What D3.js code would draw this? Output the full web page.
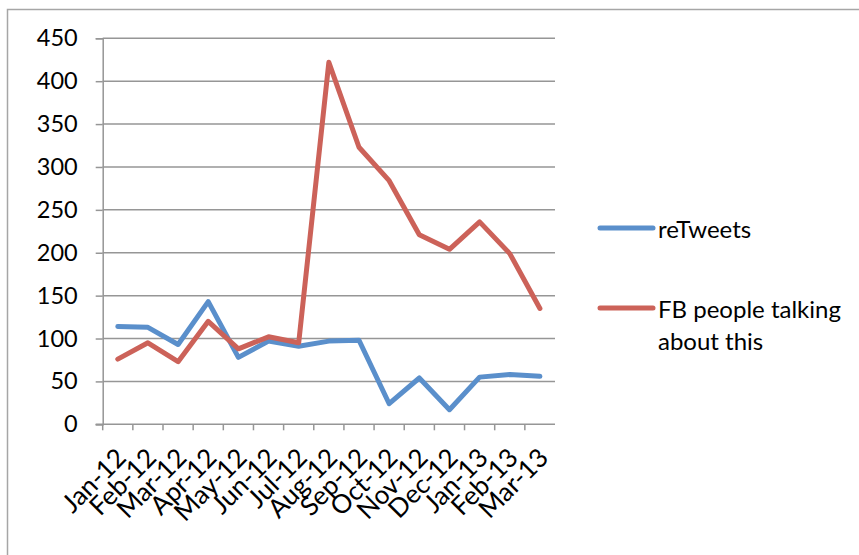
<!DOCTYPE html>
<html>
<head>
<meta charset="utf-8">
<script src="https://cdn.jsdelivr.net/npm/d3@7"></script>
<style>
  html, body { margin: 0; padding: 0; background: #fff; }
  svg { display: block; font-family: Lato, "Open Sans", sans-serif; }
</style>
</head>
<body>
<svg id="chart" width="859" height="555"></svg>
<script>
// data
var months = ["Jan-12", "Feb-12", "Mar-12", "Apr-12", "May-12", "Jun-12", "Jul-12", "Aug-12",
              "Sep-12", "Oct-12", "Nov-12", "Dec-12", "Jan-13", "Feb-13", "Mar-13"];
var reTweets = [114, 113, 93, 143, 78, 97, 91, 97, 98, 24, 54, 17, 55, 58, 56];
var fbTalking = [76, 95, 73, 120, 88, 102, 95, 422, 323, 284, 221, 204, 236, 199, 135];
var yTicks = [0, 50, 100, 150, 200, 250, 300, 350, 400, 450];
var seriesNames = ["reTweets", "FB people talking about this"];
var colors = ["#5A8FCB", "#CC6259"];

// plot area
var plotLeft = 102.7, plotRight = 555, plotTop = 38.3, plotBottom = 424.3;

var svg = d3.select("#chart");

// outer chart border (only top and left visible)
svg.append("path")
    .attr("d", "M7.5,555 V9.5 H859")
    .attr("fill", "none")
    .attr("stroke", "#a6a6a6")
    .attr("stroke-width", 1.5);

var x = d3.scaleBand().domain(months).range([plotLeft, plotRight]);
var y = d3.scaleLinear().domain([0, 450]).range([plotBottom, plotTop]);

var g = svg.append("g");

// gridlines
g.selectAll(".grid")
    .data(yTicks.filter(function(d) { return d > 0; }))
    .enter().append("line")
    .attr("class", "grid")
    .attr("x1", plotLeft).attr("x2", plotRight)
    .attr("y1", function(d) { return y(d); })
    .attr("y2", function(d) { return y(d); })
    .attr("stroke", "#969696")
    .attr("stroke-width", 1.5);

// y axis
var yAxis = d3.axisLeft(y).tickValues(yTicks).tickSize(7).tickPadding(18);
var yg = g.append("g").attr("transform", "translate(" + plotLeft + ",0)").call(yAxis);
yg.select(".domain").attr("stroke", "#969696").attr("stroke-width", 1.5);
yg.selectAll(".tick line").attr("stroke", "#969696").attr("stroke-width", 1.5);
yg.selectAll(".tick text")
    .attr("font-size", 23.5)
    .attr("font-family", "Lato, 'Open Sans', sans-serif")
    .attr("fill", "#000");

// x axis line + ticks at category boundaries
g.append("line")
    .attr("x1", plotLeft - 7).attr("x2", plotRight)
    .attr("y1", plotBottom).attr("y2", plotBottom)
    .attr("stroke", "#969696").attr("stroke-width", 1.5);
g.selectAll(".xtick")
    .data(months)
    .enter().append("line")
    .attr("class", "xtick")
    .attr("x1", function(d) { return x(d); })
    .attr("x2", function(d) { return x(d); })
    .attr("y1", plotBottom).attr("y2", plotBottom + 6)
    .attr("stroke", "#969696").attr("stroke-width", 1.5);

g.selectAll(".xlab")
    .data(months)
    .enter().append("text")
    .attr("class", "xlab")
    .attr("text-anchor", "end")
    .attr("font-size", 26)
    .attr("fill", "#000")
    .attr("transform", function(d) {
        var cx = x(d) + x.bandwidth() / 2 + 10;
        return "translate(" + cx + "," + (plotBottom + 35) + ") rotate(-45)";
    })
    .text(function(d) { return d; });

// lines
var line = d3.line()
    .x(function(d, i) { return x(months[i]) + x.bandwidth() / 2; })
    .y(function(d) { return y(d); });

[reTweets, fbTalking].forEach(function(s, i) {
    g.append("path")
        .datum(s)
        .attr("fill", "none")
        .attr("stroke", colors[i])
        .attr("stroke-width", 5)
        .attr("stroke-linejoin", "round")
        .attr("stroke-linecap", "round")
        .attr("d", line);
});

// legend
var legend = svg.append("g");
var legY = [228, 308];
seriesNames.forEach(function(name, i) {
    legend.append("line")
        .attr("x1", 600).attr("x2", 653)
        .attr("y1", legY[i]).attr("y2", legY[i])
        .attr("stroke", colors[i])
        .attr("stroke-width", 5)
        .attr("stroke-linecap", "round");
});
legend.append("text")
    .attr("x", 658).attr("y", 238)
    .attr("font-size", 24).attr("fill", "#000")
    .text(seriesNames[0]);
var t2 = legend.append("text")
    .attr("x", 658).attr("y", 318)
    .attr("font-size", 24).attr("fill", "#000");
t2.append("tspan").attr("x", 658).text("FB people talking");
t2.append("tspan").attr("x", 658).attr("dy", 32).text("about this");
</script>
</body>
</html>
